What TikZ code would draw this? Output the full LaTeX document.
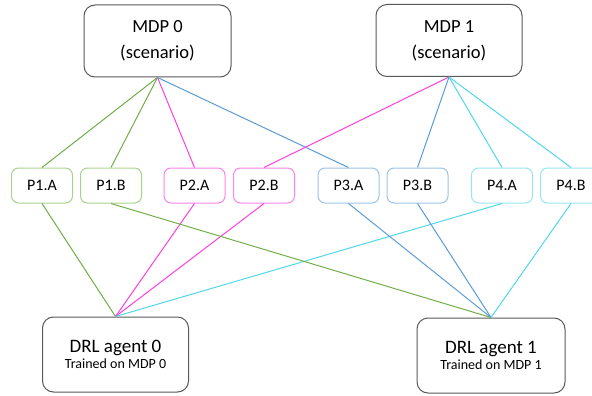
\documentclass[tikz,border=0pt]{standalone}
\usepackage{fontspec}
\setmainfont{Carlito}
\definecolor{lgreen}{RGB}{112,173,71}
\definecolor{bgreen}{RGB}{169,209,142}
\definecolor{lpink}{RGB}{255,64,220}
\definecolor{bpink}{RGB}{255,130,235}
\definecolor{lblue}{RGB}{91,155,213}
\definecolor{bblue}{RGB}{157,195,230}
\definecolor{lcyan}{RGB}{80,215,232}
\definecolor{bcyan}{RGB}{150,230,240}
\definecolor{boxgray}{RGB}{89,89,89}
\begin{document}
\begin{tikzpicture}[x=1pt,y=-1pt,
  bigbox/.style={draw=boxgray,line width=1pt,rounded corners=11pt,align=center,inner sep=0pt},
  mdpbox/.style={bigbox,minimum width=147pt,minimum height=72pt,font=\fontsize{18.5}{26}\selectfont},
  agentbox/.style={bigbox,minimum width=146pt,minimum height=75pt},
  pbox/.style={line width=1pt,rounded corners=7pt,minimum width=61pt,minimum height=35pt,inner sep=0pt,font=\fontsize{16}{19}\selectfont},
  conn/.style={line width=1pt}]
\useasboundingbox (0,0) rectangle (592,396);
\node[mdpbox] (m0) at (157.5,41) {MDP 0\\(scenario)};
\node[mdpbox,minimum width=146pt] (m1) at (449,40.5) {MDP 1\\(scenario)};
\node[pbox,draw=bgreen] (p1a) at (42,185.5) {P1.A};
\node[pbox,draw=bgreen] (p1b) at (111,185.5) {P1.B};
\node[pbox,draw=bpink] (p2a) at (194.5,185.5) {P2.A};
\node[pbox,draw=bpink] (p2b) at (264,185.5) {P2.B};
\node[pbox,draw=bblue] (p3a) at (348.5,185.5) {P3.A};
\node[pbox,draw=bblue] (p3b) at (417.5,185.5) {P3.B};
\node[pbox,draw=bcyan] (p4a) at (502,185.5) {P4.A};
\node[pbox,draw=bcyan] (p4b) at (571,185.5) {P4.B};
\node[agentbox] (a0) at (115.5,354.5) {{\fontsize{19}{19}\selectfont DRL agent 0}\\[2pt]{\fontsize{14}{14}\selectfont Trained on MDP 0}};
\node[agentbox,minimum width=148pt] (a1) at (491,355.5) {{\fontsize{19}{19}\selectfont DRL agent 1}\\[2pt]{\fontsize{14}{14}\selectfont Trained on MDP 1}};
% MDP to P
\draw[conn,lgreen] (m0.south) -- (p1a.north);
\draw[conn,lgreen] (m0.south) -- (p1b.north);
\draw[conn,lpink] (m0.south) -- (p2a.north);
\draw[conn,lblue] (m0.south) -- (p3a.north);
\draw[conn,lpink] (m1.south) -- (p2b.north);
\draw[conn,lblue] (m1.south) -- (p3b.north);
\draw[conn,lcyan] (m1.south) -- (p4a.north);
\draw[conn,lcyan] (m1.south) -- (p4b.north);
% P to agents
\draw[conn,lgreen] (p1a.south) -- (a0.north);
\draw[conn,lpink] (p2a.south) -- (a0.north);
\draw[conn,lpink] (p2b.south) -- (a0.north);
\draw[conn,lcyan] (p4a.south) -- (a0.north);
\draw[conn,lgreen] (p1b.south) -- (a1.north);
\draw[conn,lblue] (p3a.south) -- (a1.north);
\draw[conn,lblue] (p3b.south) -- (a1.north);
\draw[conn,lcyan] (p4b.south) -- (a1.north);
\end{tikzpicture}
\end{document}
